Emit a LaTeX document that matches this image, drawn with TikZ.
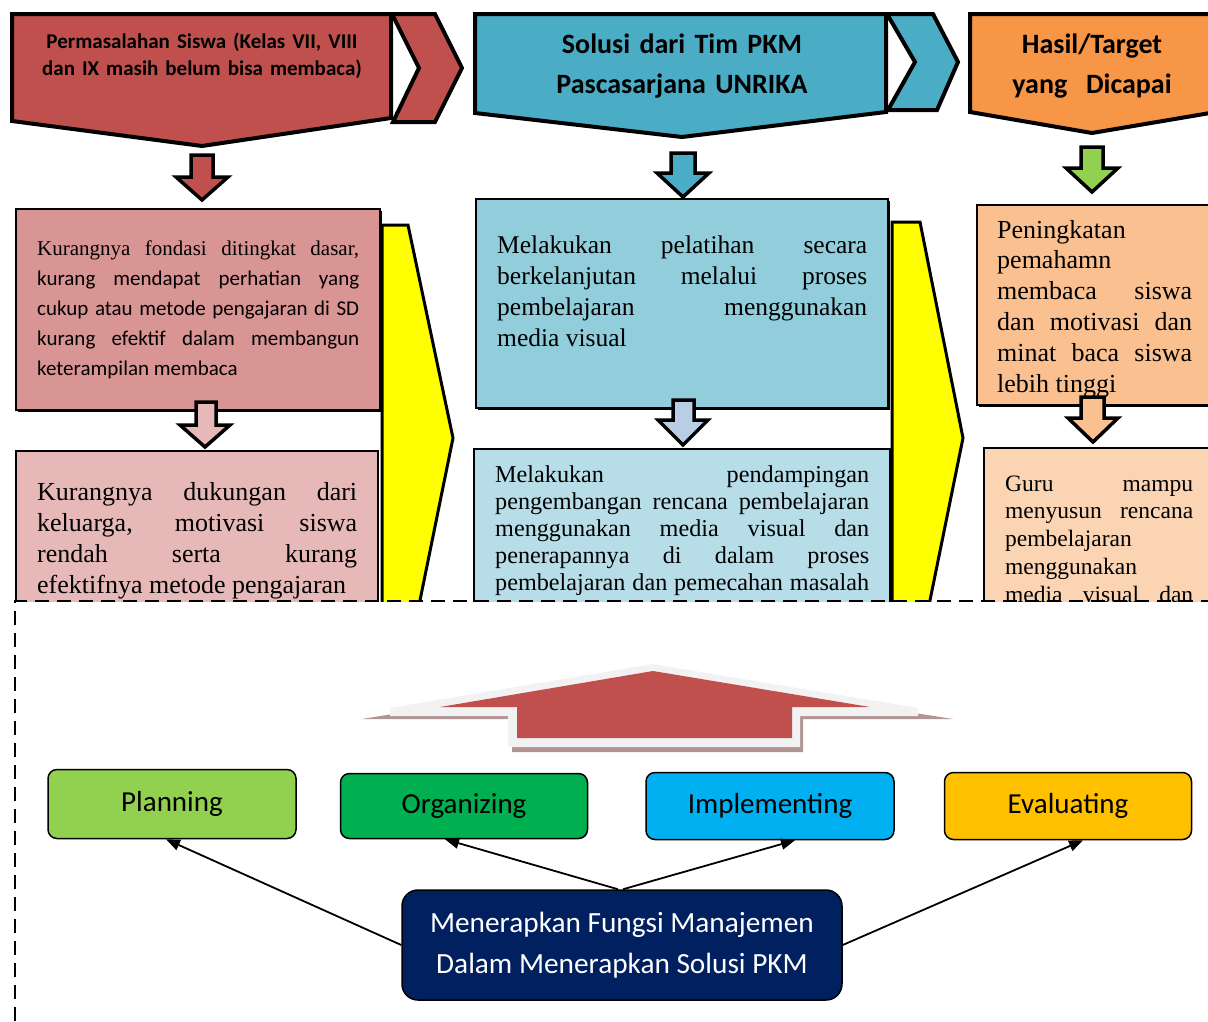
\documentclass[tikz,border=0pt]{standalone}
\usepackage{fontspec}
\setmainfont{Liberation Serif}
\newfontfamily\calibri{Carlito}
\usepackage{tikz}
\usetikzlibrary{arrows.meta,positioning,shadows}

\definecolor{merah}{HTML}{C0504D}
\definecolor{biru}{HTML}{4BACC6}
\definecolor{oranye}{HTML}{F79646}
\definecolor{merahA}{HTML}{D99594}
\definecolor{merahB}{HTML}{E6B9B8}
\definecolor{biruA}{HTML}{92CDDC}
\definecolor{biruB}{HTML}{B7DEE8}
\definecolor{biruC}{HTML}{B9CDE5}
\definecolor{oranyeA}{HTML}{FAC090}
\definecolor{oranyeB}{HTML}{FBD4B4}
\definecolor{hijauM}{HTML}{92D050}
\definecolor{hijauT}{HTML}{00B050}
\definecolor{biruL}{HTML}{00B0F0}
\definecolor{emas}{HTML}{FFC000}
\definecolor{navy}{HTML}{002060}
\definecolor{kuning}{HTML}{FFFF00}
\definecolor{abuputih}{HTML}{F2F2F2}
\definecolor{bayang}{HTML}{B39494}

\begin{document}
\begin{tikzpicture}[x=1pt,y=-1pt,>={Triangle[length=14pt,width=11pt]},
    tebal/.style={draw=black,line width=4pt,line join=miter},
    panah/.style={draw=black,line width=3.5pt,line join=miter},
    kotak/.style={draw=black,line width=1.6pt,drop shadow={shadow xshift=2pt,shadow yshift=-2pt,fill=black,opacity=1}},
    kotaktipis/.style={draw=black,line width=1.3pt},
    judul/.style={anchor=base,inner sep=0pt,align=center,font=\calibri\bfseries},
    isi/.style={anchor=base west,inner sep=0pt,align=justify},
    fungsi/.style={draw=black,line width=1.5pt,rounded corners=9pt,minimum width=248pt,minimum height=67pt,font=\calibri\fontsize{29}{34}\selectfont}]
  \useasboundingbox (0,0) rectangle (1208,1021);

  \begin{scope}
    \clip (0,0) rectangle (1208,601);
    % judul kolom
    \filldraw[tebal,fill=merah] (12,14) -- (391,14) -- (391,118) -- (202,146) -- (12,121) -- cycle;
    \filldraw[tebal,fill=merah] (392,14) -- (435,14) -- (462,68) -- (435,122) -- (393,122) -- (419,68) -- cycle;
    \filldraw[tebal,fill=biru] (475,14) -- (886,14) -- (886,112) -- (682,137) -- (475,113) -- cycle;
    \filldraw[tebal,fill=biru] (887,14) -- (933,14) -- (958,62) -- (937,110) -- (888,110) -- (915,62) -- cycle;
    \filldraw[tebal,fill=oranye] (970,14) -- (1216,14) -- (1216,112) -- (1092,133) -- (970,112) -- cycle;
    \node[judul,text width=370pt,font=\calibri\bfseries\fontsize{21}{27}\selectfont] (masalah) at (202,48)
      {Permasalahan Siswa (Kelas VII, VIII\\dan IX masih belum bisa membaca)};
    \node[judul,text width=400pt,font=\calibri\bfseries\fontsize{28}{40}\selectfont] (solusi) at (682,53)
      {Solusi dari Tim PKM\\Pascasarjana UNRIKA};
    \node[judul,text width=240pt,font=\calibri\bfseries\fontsize{28}{40}\selectfont] (hasil) at (1092,53)
      {Hasil/Target\\yang\ \ Dicapai};

    % panah kecil
    \filldraw[panah,fill=merah] (191,155) -- (213,155) -- (213,177) -- (228,177) -- (202,200) -- (176,177) -- (191,177) -- cycle;
    \filldraw[panah,fill=biru] (671,153) -- (695,153) -- (695,173) -- (709,173) -- (683,197) -- (657,173) -- (671,173) -- cycle;
    \filldraw[panah,fill=hijauM] (1081,147) -- (1103,147) -- (1103,168) -- (1118,168) -- (1092,192) -- (1066,168) -- (1081,168) -- cycle;

    % kotak isi
    \draw[kotak,fill=merahA] (16,209) rectangle (380,410);
    \draw[kotaktipis,fill=merahB] (16,451) rectangle (378,630);
    \draw[kotak,fill=biruA] (476,199) rectangle (888,408);
    \draw[kotaktipis,fill=biruB] (474,449) rectangle (890,630);
    \draw[kotak,fill=oranyeA] (977,205) rectangle (1230,405);
    \draw[kotaktipis,fill=oranyeB] (984,448) rectangle (1230,630);

    \filldraw[panah,fill=merahB] (196,402) -- (216,402) -- (216,425) -- (230,425) -- (205,447) -- (180,425) -- (196,425) -- cycle;
    \filldraw[panah,fill=biruC] (673,400) -- (694,400) -- (694,420) -- (708,420) -- (683,445) -- (658,420) -- (673,420) -- cycle;
    \filldraw[panah,fill=oranyeA] (1081,397) -- (1104,397) -- (1104,418) -- (1118,418) -- (1093,442) -- (1068,418) -- (1081,418) -- cycle;

    \node[isi,text width=322pt,font=\fontsize{21}{30}\selectfont] (kurangA) at (37,255)
      {Kurangnya fondasi ditingkat dasar,\linebreak {\calibri kurang mendapat perhatian yang\linebreak
       cukup atau metode pengajaran di SD\linebreak kurang efektif dalam membangun\linebreak keterampilan membaca}};
    \node[isi,text width=320pt,font=\fontsize{26}{31}\selectfont] (kurangB) at (37,500)
      {Kurangnya dukungan dari\linebreak keluarga, motivasi siswa\linebreak rendah serta kurang\linebreak efektifnya metode pengajaran};
    \node[isi,text width=370pt,font=\fontsize{25.5}{31}\selectfont] (latih) at (497,253)
      {Melakukan pelatihan secara\linebreak berkelanjutan melalui proses\linebreak pembelajaran menggunakan\linebreak media visual};
    \node[isi,text width=374pt,font=\fontsize{24.2}{27.2}\selectfont] (damping) at (495,482)
      {Melakukan pendampingan\linebreak pengembangan rencana pembelajaran\linebreak menggunakan media visual dan\linebreak
       penerapannya di dalam proses\linebreak pembelajaran dan pemecahan masalah\linebreak\mbox{}};
    \node[isi,text width=195pt,font=\fontsize{26}{30.8}\selectfont] (tingkat) at (997,238)
      {Peningkatan\linebreak pemahamn\linebreak membaca siswa\linebreak dan motivasi dan\linebreak minat baca siswa\linebreak lebih tinggi};
    \node[isi,text width=188pt,font=\fontsize{23.5}{27.8}\selectfont] (guru) at (1005,491)
      {Guru mampu\linebreak menyusun rencana\linebreak pembelajaran\linebreak menggunakan\linebreak media visual dan\linebreak\mbox{}};

    % panah kuning
    \filldraw[draw=black,line width=3pt,line join=miter,fill=kuning] (382,225) -- (408,225) -- (453,438) -- (416,620) -- (382,620) -- cycle;
    \filldraw[draw=black,line width=3pt,line join=miter,fill=kuning] (892,222) -- (920,222) -- (963,438) -- (926,620) -- (892,620) -- cycle;
  \end{scope}

  \draw[line width=2pt,dash pattern=on 14pt off 8pt] (15,1021) -- (15,601) -- (1208,601);

  % panah besar ke atas
  \fill[bayang] (362,719) -- (653,672) -- (953,719) -- (803,719) -- (803,752) -- (512,752) -- (512,719) -- cycle;
  \fill[abuputih] (653,664) -- (918,708) -- (918,716) -- (800,716) -- (800,747) -- (508,747) -- (508,716) -- (390,716) -- (390,708) -- cycle;
  \fill[merah] (653,671) -- (870,707) -- (792,707) -- (792,738) -- (517,738) -- (517,707) -- (440,707) -- cycle;

  % fungsi manajemen
  \node[fungsi,fill=hijauM,minimum height=69pt] (plan) at (172,804) {Planning};
  \node[fungsi,fill=hijauT,minimum width=247pt,minimum height=65pt] (org) at (464,806) {Organizing};
  \node[fungsi,fill=biruL] (impl) at (770,806) {Implementing};
  \node[fungsi,fill=emas,minimum width=247pt] (eval) at (1068,806) {Evaluating};
  \node[fungsi,fill=navy,text=white,rounded corners=16pt,minimum width=440pt,minimum height=110pt,align=center,
    font=\calibri\fontsize{29.3}{41}\selectfont] (terap) at (622,945) {Menerapkan Fungsi Manajemen\\Dalam Menerapkan Solusi PKM};

  \draw[->,line width=1.8pt] (terap.west) -- ([xshift=-6pt]plan.south);
  \draw[->,line width=1.8pt] ([xshift=-4pt]terap.north) -- ([xshift=-19pt]org.south);
  \draw[->,line width=1.8pt] ([xshift=1pt]terap.north) -- ([xshift=25pt]impl.south);
  \draw[->,line width=1.8pt] (terap.east) -- ([xshift=15pt]eval.south);
\end{tikzpicture}
\end{document}
